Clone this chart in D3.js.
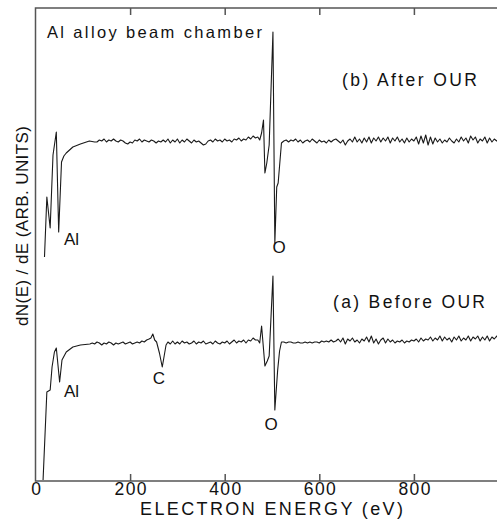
<!DOCTYPE html>
<html>
<head>
<meta charset="utf-8">
<title>Auger spectra - Al alloy beam chamber</title>
<script src="https://cdn.jsdelivr.net/npm/d3@7"></script>
<style>
  body { margin: 0; background: #fff; }
  text { font-family: "Liberation Sans", Arial, Helvetica, sans-serif; fill: #111; }
</style>
</head>
<body>
<div id="chart"></div>
<script>
var WIDTH = 497, HEIGHT = 519;

// x ticks (eV)
var energyTicks = [0, 200, 400, 600, 800];

// (b) After OUR : [energy eV, dN/dE arb. units]
var traceB = [
  [19,224],[24,284],[31,253],[37,326],[44,349],[49,249],[55,319],[60,325],[65,328],[79,334],[95,337],[114,340],[125,339],
  [130,339],[135,341],[140,340],[145,342],[150,339],[155,341],[160,340],[165,342],[170,340],[175,339],[180,341],[185,340],
  [190,338],[195,337],[200,339],[205,338],[210,341],[215,340],[220,342],[225,339],[230,341],[235,340],[240,339],[245,341],
  [250,340],[255,338],[260,340],[265,339],[270,341],[275,339],[280,342],[285,338],[290,341],[295,339],[300,342],[305,338],
  [310,341],[315,339],[320,342],[325,340],[330,338],[335,341],[340,339],[345,340],[350,338],[355,336],[360,337],[365,340],
  [370,341],[375,339],[380,342],[385,340],[390,341],[395,339],[400,342],[405,340],[410,341],[415,339],[420,342],[425,341],
  [430,343],[435,340],[440,342],[445,341],[450,344],[455,342],[460,345],[465,343],[470,344],
  [474,341],[478,348],[482,361],[485,308],[489,318],[494,336],[502,449],[506,238],[510,294],[513,298],[520,338],
  [525,340],[530,341],[535,339],[540,341],[545,340],[550,342],[555,339],[560,341],[565,338],[570,340],[575,341],[580,339],
  [585,342],[590,340],[595,338],[600,341],[605,339],[610,340],[615,338],[620,341],[625,339],[630,341],[635,342],[640,340],
  [645,338],[650,341],[655,336],[660,340],[665,342],[670,339],[675,344],[680,339],[685,342],[690,338],[695,343],[700,339],
  [705,344],[710,338],[715,343],[720,340],[725,344],[730,339],[735,343],[740,340],[745,344],[750,338],[755,343],[760,340],
  [765,344],[770,339],[775,342],[780,338],[785,343],[790,339],[795,342],[800,340],[805,344],[810,337],[815,345],[820,338],
  [825,346],[830,336],[835,344],[840,337],[845,343],[850,339],[855,342],[860,338],[865,341],[870,339],[875,343],[880,340],
  [885,338],[890,342],[895,339],[900,344],[905,340],[910,343],[915,338],[920,345],[925,341],[930,344],[935,338],[940,342],
  [945,340],[950,344],[955,338],[960,343],[965,339],[970,342],[975,340],[980,343],[985,341]
];

// (a) Before OUR
var traceA = [
  [16,1],[24,89],[31,91],[35,114],[40,129],[44,133],[51,99],[56,121],[65,129],[79,134],[95,136],[115,137],
  [120,138],[125,137],[130,139],[135,138],[140,136],[145,138],[150,137],[155,139],[160,138],[165,136],[170,138],[175,137],
  [180,138],[185,139],[190,137],[195,138],[200,139],[205,137],[210,138],[215,139],[220,138],[225,140],[230,139],[235,141],
  [240,142],[244,143],[248,147],[252,141],[256,139],[262,128],[268,114],[272,125],[276,136],
  [280,139],[285,137],[290,140],[295,137],[300,139],[305,137],[310,140],[315,138],[320,139],[325,137],[330,138],[335,140],
  [340,137],[345,139],[350,138],[355,140],[360,137],[365,138],[370,139],[375,137],[380,140],[385,138],[390,137],[395,139],
  [400,138],[405,140],[410,137],[415,139],[420,141],[425,138],[430,140],[435,139],[440,141],[445,138],[450,141],[455,140],
  [460,143],[465,141],[470,141],
  [474,138],[478,155],[485,115],[490,120],[494,125],[502,205],[506,71],[512,111],[516,130],[520,139],
  [525,139],[530,138],[535,139],[540,139],[545,138],[550,138],[555,139],[560,138],[565,138],[570,139],[575,138],[580,139],
  [585,138],[590,139],[595,139],[600,138],[605,140],[610,139],[615,140],[620,139],[625,141],[630,139],[635,140],[640,142],
  [645,139],[650,143],[655,137],[660,142],[665,140],[670,143],[675,139],[680,141],[685,138],[690,142],[695,140],[700,144],
  [705,139],[710,145],[715,138],[720,142],[725,137],[730,141],[735,143],[740,138],[745,142],[750,139],[755,141],[760,138],
  [765,140],[770,139],[775,141],[780,138],[785,140],[790,139],[795,141],[800,140],[805,142],[810,139],[815,143],[820,140],
  [825,142],[830,141],[835,144],[840,140],[845,143],[850,141],[855,145],[860,140],[865,144],[870,141],[875,143],[880,139],
  [885,144],[890,141],[895,145],[900,140],[905,143],[910,141],[915,145],[920,140],[925,144],[930,142],[935,145],[940,140],
  [945,144],[950,141],[955,145],[960,140],[965,144],[970,142],[975,145],[980,141],[985,144]
];

// peak annotations: [text, energy, value]
var peakLabels = [
  ["Al", 76, 242], ["O", 515, 234],
  ["Al", 76, 90], ["C", 261, 103], ["O", 498, 57]
];

var margin = {left: 35.5, top: 8, bottom: 481};
var x = d3.scaleLinear().domain([0, 1000]).range([margin.left, 508.5]);
var y = d3.scaleLinear().domain([0, 473]).range([margin.bottom, margin.top]);

var svg = d3.select("#chart").append("svg").attr("width", WIDTH).attr("height", HEIGHT);

svg.append("defs").append("clipPath").attr("id", "plot")
  .append("rect").attr("x", x(0)).attr("y", y(473)).attr("width", x(1000) - x(0)).attr("height", y(0) - y(473));

// frame
svg.append("rect")
  .attr("x", x(0)).attr("y", y(473)).attr("width", x(1000) - x(0)).attr("height", y(0) - y(473))
  .style("fill", "none").style("stroke", "#555").style("stroke-width", 1.5);

var bottomAxis = d3.axisBottom(x).tickValues(energyTicks).tickSizeInner(-7).tickSizeOuter(0).tickPadding(2);
var gx = svg.append("g").attr("transform", "translate(0," + y(0) + ")").call(bottomAxis);
gx.select(".domain").remove();
gx.selectAll("line").style("stroke", "#555").style("stroke-width", 1.5).filter(function(d){ return d === 0; }).remove();
gx.selectAll("text").style("font-size", "17.5px").style("fill", "#111")
  .attr("textLength", function(d){ return d === 0 ? null : 32; }).attr("lengthAdjust", "spacing");

var topAxis = d3.axisTop(x).tickValues(energyTicks).tickSizeInner(-7).tickSizeOuter(0).tickFormat("");
var gt = svg.append("g").attr("transform", "translate(0," + y(473) + ")").call(topAxis);
gt.select(".domain").remove();
gt.selectAll("line").style("stroke", "#555").style("stroke-width", 1.5).filter(function(d){ return d === 0; }).remove();

var line = d3.line().x(function(d){ return x(d[0]); }).y(function(d){ return y(d[1]); });
var plot = svg.append("g").attr("clip-path", "url(#plot)");
[traceB, traceA].forEach(function(tr){
  plot.append("path").datum(tr).attr("d", line)
    .style("fill", "none").style("stroke", "#1a1a1a").style("stroke-width", 1.1).style("stroke-linejoin", "round");
});

// peak labels
svg.selectAll(".peak").data(peakLabels).enter().append("text")
  .attr("x", function(d){ return x(d[1]); }).attr("y", function(d){ return y(d[2]); })
  .attr("text-anchor", "middle").attr("dominant-baseline", "central")
  .style("font-size", "17px").text(function(d){ return d[0]; });

// titles
svg.append("text").attr("x", 47).attr("y", 38).attr("textLength", 215).attr("lengthAdjust", "spacing")
  .style("font-size", "16.5px").text("Al alloy beam chamber");
svg.append("text").attr("x", 342).attr("y", 86).attr("textLength", 135).attr("lengthAdjust", "spacing")
  .style("font-size", "17.5px").text("(b) After OUR");
svg.append("text").attr("x", 333).attr("y", 308).attr("textLength", 152).attr("lengthAdjust", "spacing")
  .style("font-size", "17.5px").text("(a) Before OUR");

svg.append("text").attr("x", 140).attr("y", 515).attr("textLength", 263).attr("lengthAdjust", "spacing")
  .style("font-size", "18px").text("ELECTRON ENERGY (eV)");

svg.append("text").attr("transform", "translate(28,326) rotate(-90)")
  .attr("textLength", 200).attr("lengthAdjust", "spacing")
  .style("font-size", "17px").text("dN(E) / dE (ARB. UNITS)");
</script>
</body>
</html>
